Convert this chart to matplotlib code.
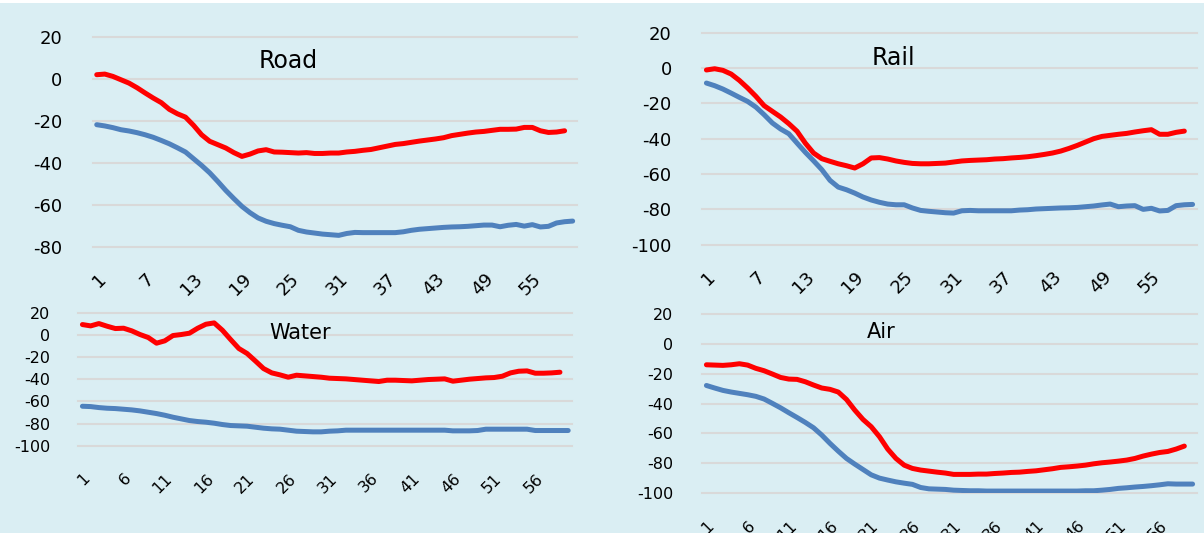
import matplotlib.pyplot as plt
from matplotlib.patches import Rectangle

plt.rcParams['font.family'] = 'DejaVu Sans'
plt.rcParams['axes.unicode_minus'] = False

W, H = 1204, 533
BG = '#DAEEF3'
GRID = '#D9D9D9'
RED = '#FF0000'
BLUE = '#4F81BD'

weeks = list(range(1, 61))

# values (red = 59 weeks, blue = 60 weeks)
road_red = [1.9, 2.2, 1.1, -0.5, -2.1, -4.3, -6.8, -9.2, -11.4, -14.6,
            -16.7, -18.3, -22.2, -26.7, -29.8, -31.4, -33.0, -35.2, -37.0, -35.9,
            -34.4, -33.8, -34.9, -35.0, -35.2, -35.4, -35.2, -35.6, -35.6, -35.4,
            -35.4, -34.9, -34.6, -34.1, -33.7, -32.9, -32.1, -31.3, -30.9,
            -30.3, -29.7, -29.2, -28.7, -28.1, -27.1, -26.5, -25.9, -25.4, -25.1,
            -24.6, -24.1, -24.1, -24.0, -23.2, -23.2, -24.8, -25.6, -25.4, -24.8]
road_blue = [-21.9, -22.5, -23.3, -24.3, -24.9, -25.7, -26.7, -27.9, -29.4, -31.0,
             -32.9, -34.9, -38.1, -41.3, -44.8, -48.9, -53.2, -57.1, -60.8, -63.8,
             -66.3, -67.9, -69.0, -69.8, -70.5, -72.2, -73.0, -73.5, -74.0, -74.3,
             -74.6, -73.7, -73.2, -73.3, -73.3, -73.3, -73.3, -73.3, -72.9,
             -72.2, -71.7, -71.4, -71.1, -70.8, -70.6, -70.5, -70.3, -70.0, -69.7,
             -69.7, -70.5, -69.8, -69.4, -70.2, -69.5, -70.6, -70.3, -68.7, -68.1, -67.8]

rail_red = [-1.1, -0.4, -1.3, -3.4, -7.0, -11.3, -16.0, -21.3, -24.5, -27.7,
            -31.5, -35.8, -42.5, -48.1, -51.3, -52.8, -54.2, -55.3, -56.6, -54.2,
            -50.9, -50.7, -51.5, -52.6, -53.4, -54.0, -54.2, -54.2, -54.0, -53.8,
            -53.2, -52.6, -52.3, -52.1, -51.9, -51.5, -51.3, -50.9, -50.6,
            -50.2, -49.6, -48.9, -48.1, -47.0, -45.5, -43.8, -41.9, -40.0, -38.7,
            -38.1, -37.5, -37.0, -36.2, -35.5, -34.9, -37.5, -37.5, -36.4, -35.7]
rail_blue = [-8.5, -10.0, -11.9, -14.2, -16.6, -18.9, -22.1, -26.4, -31.1, -34.5,
             -37.2, -42.5, -47.7, -52.5, -57.5, -63.6, -67.4, -68.9, -70.8, -73.0,
             -74.7, -76.0, -77.0, -77.4, -77.4, -79.2, -80.6, -81.1, -81.5, -81.9,
             -82.1, -80.8, -80.6, -80.8, -80.8, -80.8, -80.8, -80.8, -80.4,
             -80.2, -79.8, -79.6, -79.4, -79.2, -79.1, -78.9, -78.5, -78.1, -77.5,
             -77.0, -78.5, -78.1, -77.9, -80.0, -79.4, -80.9, -80.6, -77.9, -77.4, -77.2]

water_red = [9.3, 8.1, 10.2, 7.8, 5.7, 6.0, 3.6, 0.3, -2.4, -7.5,
             -5.4, -0.6, 0.3, 1.5, 6.0, 9.6, 10.8, 4.2, -4.2, -12.3,
             -16.8, -23.5, -30.4, -34.3, -36.1, -38.2, -36.4, -37.0, -37.6, -38.2,
             -39.1, -39.4, -39.7, -40.3, -40.9, -41.5, -42.1, -40.9, -40.9,
             -41.2, -41.5, -40.9, -40.3, -40.0, -39.7, -41.8, -40.9, -40.0, -39.4,
             -38.8, -38.5, -37.3, -34.3, -32.8, -32.5, -34.6, -34.6, -34.3, -33.7]
water_blue = [-64.4, -64.7, -65.6, -66.2, -66.5, -67.1, -67.7, -68.6, -69.8, -71.0,
              -72.5, -74.3, -75.8, -77.3, -78.2, -78.8, -79.7, -80.9, -81.8, -82.1,
              -82.4, -83.3, -84.2, -84.8, -85.1, -86.0, -86.9, -87.2, -87.5, -87.5,
              -86.9, -86.6, -86.0, -86.0, -86.0, -86.0, -86.0, -86.0, -86.0,
              -86.0, -86.0, -86.0, -86.0, -86.0, -86.0, -86.6, -86.6, -86.6, -86.3,
              -85.1, -85.1, -85.1, -85.1, -85.1, -85.1, -86.3, -86.3, -86.3, -86.3, -86.3]

air_red = [-13.9, -14.1, -14.3, -13.9, -13.2, -14.1, -16.3, -17.9, -20.1, -22.4,
           -23.5, -23.7, -25.3, -27.5, -29.5, -30.4, -32.2, -37.2, -44.3, -50.6,
           -55.5, -62.2, -70.5, -76.8, -81.3, -83.5, -84.6, -85.3, -86.0, -86.6,
           -87.5, -87.5, -87.5, -87.3, -87.3, -86.9, -86.6, -86.2, -86.0,
           -85.5, -85.1, -84.4, -83.7, -82.8, -82.4, -81.9, -81.3, -80.4, -79.7,
           -79.2, -78.6, -77.9, -76.8, -75.2, -73.9, -72.8, -72.1, -70.5, -68.5]
air_blue = [-27.8, -29.5, -31.1, -32.2, -33.1, -34.0, -35.1, -36.9, -39.8, -42.8,
            -46.1, -49.3, -52.6, -56.2, -61.1, -66.7, -71.9, -76.8, -80.6, -84.2,
            -87.8, -90.0, -91.3, -92.5, -93.4, -94.2, -96.3, -97.2, -97.4, -97.6,
            -98.1, -98.3, -98.5, -98.5, -98.7, -98.7, -98.7, -98.7, -98.7,
            -98.7, -98.7, -98.7, -98.7, -98.7, -98.7, -98.7, -98.5, -98.5, -98.1,
            -97.6, -96.9, -96.5, -96.0, -95.6, -95.1, -94.5, -93.8, -94.0, -94.0, -94.0]

fig = plt.figure(figsize=(W / 100, H / 100), dpi=100, facecolor=BG)


def add_ax(x0, y0, x1, y1, z):
    # pixel box (top-left origin) -> figure fraction
    return fig.add_axes([x0 / W, 1 - y1 / H, (x1 - x0) / W, (y1 - y0) / H], zorder=z)


def panel(ax, red, blue, ymin, step, fs, ypad, xpad):
    ax.set_facecolor(BG)
    ax.plot(weeks[:len(blue)], blue, color=BLUE, lw=3.6,
            solid_capstyle='round', solid_joinstyle='round', zorder=3)
    ax.plot(weeks[:len(red)], red, color=RED, lw=3.6,
            solid_capstyle='round', solid_joinstyle='round', zorder=4)
    ax.set_xlim(0.5, len(weeks) + 0.5)
    ax.set_ylim(ymin, 20)
    ax.set_yticks(range(ymin, 21, 20))
    ticks = weeks[::step]
    ax.set_xticks(ticks)
    ax.set_xticklabels([str(t) for t in ticks], rotation=45, ha='right',
                       va='top', rotation_mode='anchor')
    ax.tick_params(length=0, labelsize=fs, colors='black')
    ax.tick_params(axis='y', pad=ypad)
    ax.tick_params(axis='x', pad=xpad)
    ax.grid(axis='y', color=GRID, lw=1.5)
    ax.set_axisbelow(True)
    for gl in ax.get_ygridlines():
        gl.set_clip_on(False)
    for sp in ax.spines.values():
        sp.set_visible(False)


ax_road = add_ax(92.7, 36.7, 576.7, 246.7, 0)
panel(ax_road, road_red, road_blue, -80, 6, 13, 22, 17)

ax_rail = add_ax(702.3, 32.7, 1196.7, 244.7, 0)
panel(ax_rail, rail_red, rail_blue, -100, 6, 13, 22, 17)

# lower chart areas sit on top of the upper ones and hide their label tails
fig.add_artist(Rectangle((0, 0), 1, 1 - 299 / H, transform=fig.transFigure,
                         facecolor=BG, edgecolor='none', zorder=0.5))

ax_water = add_ax(78.3, 312.7, 572.3, 445.7, 1)
panel(ax_water, water_red, water_blue, -100, 5, 11.5, 20, 18)

ax_air = add_ax(702.3, 314.3, 1196.7, 493, 1)
panel(ax_air, air_red, air_blue, -100, 5, 11.5, 21, 18)

fig.text(288 / W, 1 - 68 / H, 'Road', fontsize=17, ha='center', va='baseline')
fig.text(893 / W, 1 - 65 / H, 'Rail', fontsize=17, ha='center', va='baseline')
fig.text(300 / W, 1 - 339 / H, 'Water', fontsize=15, ha='center', va='baseline')
fig.text(881 / W, 1 - 338 / H, 'Air', fontsize=15, ha='center', va='baseline')

fig.add_artist(Rectangle((0, 1 - 3 / H), 1, 3 / H, transform=fig.transFigure,
                         facecolor='white', edgecolor='none', zorder=5))

fig.savefig('out.png', dpi=100, facecolor=BG)
